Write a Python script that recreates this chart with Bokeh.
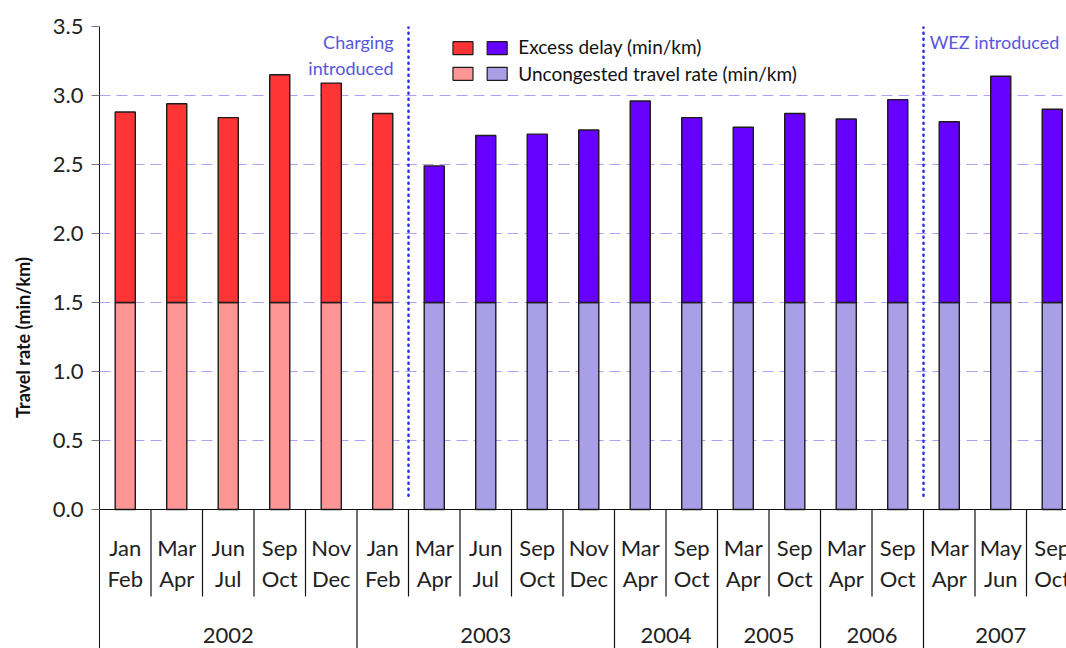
import numpy as np
from bokeh.plotting import figure
from bokeh.models import Range1d, FixedTicker, PrintfTickFormatter, ColumnDataSource, Label, Span
from bokeh.core.properties import value
from bokeh.embed import file_html
from bokeh.resources import INLINE

# ---------------- data ----------------
period_top = ["Jan", "Mar", "Jun", "Sep", "Nov",
              "Jan", "Mar", "Jun", "Sep", "Nov",
              "Mar", "Sep", "Mar", "Sep", "Mar", "Sep",
              "Mar", "May", "Sep"]
period_bottom = ["Feb", "Apr", "Jul", "Oct", "Dec",
                 "Feb", "Apr", "Jul", "Oct", "Dec",
                 "Apr", "Oct", "Apr", "Oct", "Apr", "Oct",
                 "Apr", "Jun", "Oct"]
period_year = ["2002"] * 5 + ["2003"] * 5 + ["2004"] * 2 + ["2005"] * 2 + ["2006"] * 2 + ["2007"] * 3
uncongested = [1.5] * 19
total_rate = [2.88, 2.94, 2.84, 3.15, 3.09, 2.87,
              2.49, 2.71, 2.72, 2.75, 2.96, 2.84, 2.77, 2.87, 2.83, 2.97, 2.81, 3.14, 2.90]
charging_active = [False] * 6 + [True] * 13
y_ticks = [0.0, 0.5, 1.0, 1.5, 2.0, 2.5, 3.0, 3.5]
event_names = ["Charging introduced", "WEZ introduced"]
event_first_period = [("2003", "Mar"), ("2007", "Mar")]
legend_labels = ["Excess delay (min/km)", "Uncongested travel rate (min/km)"]

# ---------------- style ----------------
FONT = "Lato"
RED, PINK = "#ff3535", "#ff9696"
PURPLE, LAVENDER = "#6600ff", "#a99fe6"
OUTLINE = "#1c1c1c"
EVENT_LINE = "#2d2de0"
EVENT_TEXT = "#5656e0"

W, H = 1066, 648
LEFT, TOP = 99, 26
CAT_PX = 51.5
PX_PER_UNIT = 138.0

n = len(total_rate)
x = np.arange(n) + 0.5
excess_colors = [PURPLE if c else RED for c in charging_active]
base_colors = [LAVENDER if c else PINK for c in charging_active]
y_bot = 3.5 - (H - TOP) / PX_PER_UNIT

p = figure(width=W, height=H,
           x_range=Range1d(0, (W - LEFT) / CAT_PX),
           y_range=Range1d(y_bot, 3.5),
           x_axis_type=None, output_backend="svg", toolbar_location=None,
           min_border_left=LEFT, min_border_right=0, min_border_top=TOP, min_border_bottom=0)
p.outline_line_color = None
p.background_fill_color = "white"

ax = p.yaxis[0]
ax.ticker = FixedTicker(ticks=y_ticks)
ax.formatter = PrintfTickFormatter(format="%.1f")
ax.major_label_text_font = FONT
ax.major_label_text_font_size = "22px"
ax.major_label_text_color = "#222222"
ax.major_label_standoff = 8
ax.major_tick_out = 8
ax.major_tick_in = 0
ax.major_tick_line_color = "#777777"
ax.minor_tick_line_color = None
ax.axis_line_color = "#111111"
ax.axis_label = "Travel rate (min/km)"
ax.axis_label_text_font = FONT
ax.axis_label_text_font_style = "bold"
ax.axis_label_text_font_size = "18px"
ax.axis_label_text_color = "#111111"
ax.axis_label_standoff = 16

p.ygrid.ticker = FixedTicker(ticks=[t for t in y_ticks if t > 0])
p.ygrid.grid_line_color = "#b39ef7"
p.ygrid.grid_line_dash = "11 6"
p.ygrid.grid_line_width = 1

src = ColumnDataSource(dict(x=x, unc=uncongested, tot=total_rate,
                            base_c=base_colors, exc_c=excess_colors))
p.vbar(x="x", width=0.39, bottom=0, top="unc", fill_color="base_c",
       line_color=OUTLINE, line_width=1.4, source=src)
p.vbar(x="x", width=0.39, bottom="unc", top="tot", fill_color="exc_c",
       line_color=OUTLINE, line_width=1.4, source=src)

p.add_layout(Span(location=0, dimension="width", line_color="#111111", line_width=1.2))

# category separators
sx, sy1 = [], []
for i in range(1, n):
    sx.append(i)
    sy1.append(y_bot if period_year[i] != period_year[i - 1] else -0.63)
p.segment(x0=sx, y0=[0] * len(sx), x1=sx, y1=sy1, line_color="#111111", line_width=1.2)

# period labels
p.text(x=x, y=[-0.275] * n, text=period_top, text_align="center", text_baseline="alphabetic",
       text_font=value(FONT), text_font_size="22px", text_color="#222222")
p.text(x=x, y=[-0.50] * n, text=period_bottom, text_align="center", text_baseline="alphabetic",
       text_font=value(FONT), text_font_size="22px", text_color="#222222")

# year labels
years = list(dict.fromkeys(period_year))
yc = []
for yr in years:
    idx = [i for i, v in enumerate(period_year) if v == yr]
    yc.append((idx[0] + idx[-1] + 1) / 2)
p.text(x=yc, y=[-0.914] * len(yc), text=years, text_align="center", text_baseline="alphabetic",
       text_font=value(FONT), text_font_size="22px", text_color="#222222")

# events
ev_x = []
for yr, mo in event_first_period:
    i = [k for k in range(n) if period_year[k] == yr and period_top[k] == mo][0]
    ev_x.append(i)
p.segment(x0=ev_x, y0=[0.1] * 2, x1=ev_x, y1=[3.5] * 2, line_color=EVENT_LINE,
          line_width=2.5, line_dash="1 5", line_cap="round")

words = event_names[0].split(" ")
p.add_layout(Label(x=ev_x[0] - 0.29, y=3.308, text=words[0], text_align="right",
                   text_font=FONT, text_font_size="18px", text_color=EVENT_TEXT))
p.add_layout(Label(x=ev_x[0] - 0.29, y=3.123, text=words[1], text_align="right",
                   text_font=FONT, text_font_size="18px", text_color=EVENT_TEXT))
p.add_layout(Label(x=ev_x[1] + 0.12, y=3.308, text=event_names[1], text_align="left",
                   text_font=FONT, text_font_size="18px", text_color=EVENT_TEXT))

# legend (two swatches per row)
p.rect(x=[7.058, 7.722, 7.058, 7.722], y=[3.343, 3.343, 3.157, 3.157],
       width=20, height=13, width_units="screen", height_units="screen",
       fill_color=[RED, PURPLE, PINK, LAVENDER], line_color=OUTLINE, line_width=1.2)
p.text(x=[8.13, 8.13], y=[3.352, 3.159], text=legend_labels, text_align="left",
       text_baseline="alphabetic", text_font=value(FONT), text_font_size="19px",
       text_color="#111111")

open("out.html", "w").write(file_html(p, INLINE))
